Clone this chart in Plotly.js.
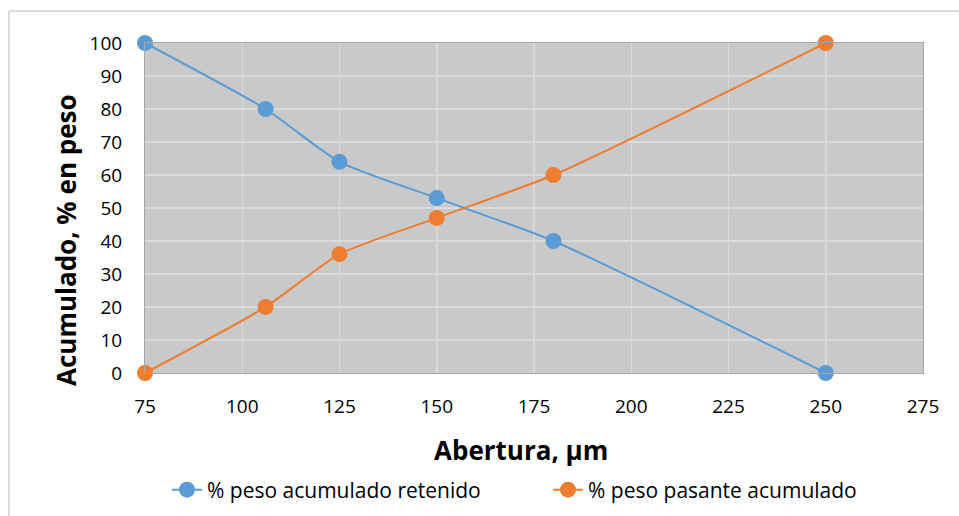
<!DOCTYPE html>
<html>
<head>
<meta charset="utf-8">
<script src="https://cdn.plot.ly/plotly-3.0.1.min.js"></script>
<style>html,body{margin:0;padding:0;background:#fff;}#chart{width:959px;height:516px;}</style>
</head>
<body>
<div id="chart"></div>
<script>
const abertura = [75, 106, 125, 150, 180, 250];
const retenido = [100, 80, 64, 53, 40, 0];
const pasante = [0, 20, 36, 47, 60, 100];
const xTicks = [75, 100, 125, 150, 175, 200, 225, 250, 275];
const yTicks = [0, 10, 20, 30, 40, 50, 60, 70, 80, 90, 100];
const xTitle = 'Abertura, µm';
const yTitle = 'Acumulado, % en peso';

const FONT = "'Open Sans', Lato, sans-serif";
const W = 959, H = 516;
const L = 145, R = 923, T = 43, B = 373;
function px(x){ return (x - L) / (R - L); }
function py(y){ return (B - y) / (B - T); }

const traces = [
  {x: abertura, y: retenido, name: '% peso acumulado retenido', type: 'scatter', mode: 'lines+markers',
   cliponaxis: false, legend: 'legend',
   line: {color: '#5b9bd5', width: 2, shape: 'spline', smoothing: 0.6},
   marker: {color: '#5b9bd5', size: 16}},
  {x: abertura, y: pasante, name: '% peso pasante acumulado', type: 'scatter', mode: 'lines+markers',
   cliponaxis: false, legend: 'legend2',
   line: {color: '#ed7d31', width: 2, shape: 'spline', smoothing: 0.6},
   marker: {color: '#ed7d31', size: 16}}
];

const legBase = {orientation: 'h', xanchor: 'left', xref: 'container', yanchor: 'middle', yref: 'container',
                 y: (H - 490) / H, font: {family: FONT, size: 21, color: '#000'},
                 bgcolor: 'rgba(0,0,0,0)', borderwidth: 0};

const layout = {
  width: W, height: H,
  margin: {l: L, r: W - R, t: T, b: H - B, autoexpand: false},
  paper_bgcolor: '#ffffff',
  plot_bgcolor: '#c9c9c9',
  font: {family: FONT, size: 19, color: '#000'},
  showlegend: true,
  legend: Object.assign({}, legBase, {x: 167 / W}),
  legend2: Object.assign({}, legBase, {x: 548 / W}),
  xaxis: {range: [75, 275], tickvals: xTicks, ticktext: xTicks.map(String), showgrid: true,
          gridcolor: '#dadada', gridwidth: 1.5, zeroline: false, showline: true, linecolor: '#a6a6a6',
          mirror: true, ticks: '', ticklabelstandoff: 16, automargin: false,
          tickfont: {family: FONT, size: 19}},
  yaxis: {range: [0, 100], tickvals: yTicks, ticktext: yTicks.map(String), showgrid: true,
          gridcolor: '#dadada', gridwidth: 1.5, zeroline: false, showline: true, linecolor: '#a6a6a6',
          mirror: true, ticks: '', ticklabelstandoff: 18, automargin: false,
          tickfont: {family: FONT, size: 19}},
  annotations: [
    {text: '<b>' + xTitle + '</b>', xref: 'paper', yref: 'paper', x: px(521), y: py(450),
     xanchor: 'center', yanchor: 'middle', showarrow: false, font: {family: FONT, size: 26, color: '#000'}},
    {text: '<b>' + yTitle + '</b>', xref: 'paper', yref: 'paper', x: px(66), y: py(240),
     xanchor: 'center', yanchor: 'middle', textangle: -90, showarrow: false,
     font: {family: FONT, size: 26, color: '#000'}}
  ],
  shapes: [
    {type: 'line', xref: 'paper', yref: 'paper', x0: px(9), x1: px(W), y0: py(11), y1: py(11),
     line: {color: '#d0d0d0', width: 1.5}},
    {type: 'line', xref: 'paper', yref: 'paper', x0: px(9), x1: px(9), y0: py(11), y1: py(H),
     line: {color: '#d0d0d0', width: 1.5}}
  ]
};

Plotly.newPlot('chart', traces, layout, {displayModeBar: false, staticPlot: true});
</script>
</body>
</html>
